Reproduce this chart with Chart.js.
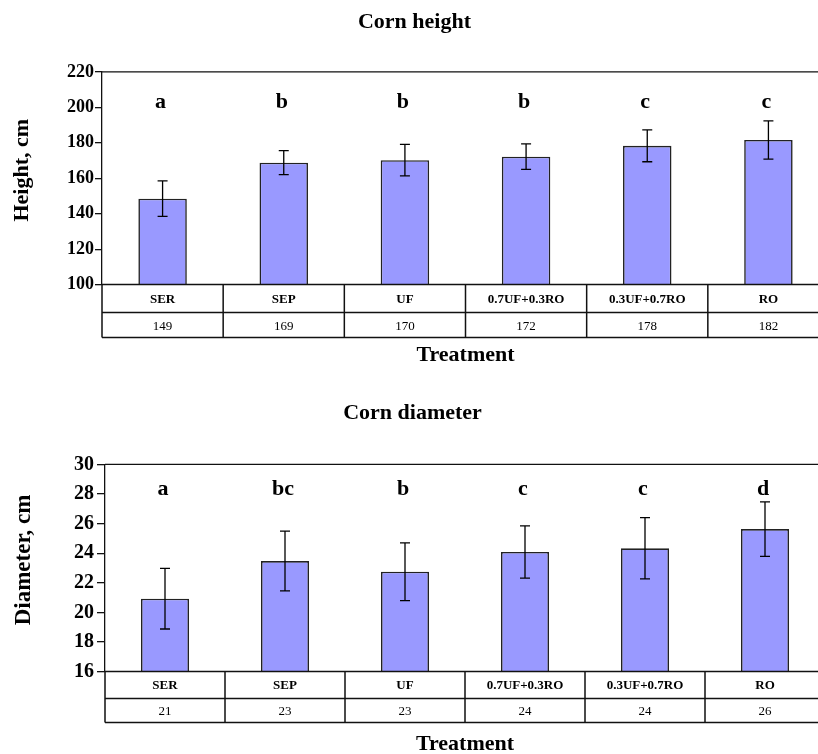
<!DOCTYPE html>
<html>
<head>
<meta charset="utf-8">
<script src="https://cdn.jsdelivr.net/npm/chart.js@4.4.1/dist/chart.umd.min.js"></script>
<style>
  html, body { margin: 0; padding: 0; background: #fff; overflow: hidden; width: 818px; height: 754px; }
  .box { position: absolute; left: 0; }
</style>
</head>
<body>
<div class="box" style="top:0"><canvas id="heightChart" width="840" height="380"></canvas></div>
<div class="box" style="top:380px"><canvas id="diamChart" width="840" height="390"></canvas></div>
<script>
// data
var treatments = ['SER', 'SEP', 'UF', '0.7UF+0.3RO', '0.3UF+0.7RO', 'RO'];

var heightMeans = [148.5, 168.8, 170.2, 172.2, 178.3, 181.6];
var heightErr = [10, 6.8, 8.9, 7.2, 9, 10.8];
var heightLetters = ['a', 'b', 'b', 'b', 'c', 'c'];
var heightTable = ['149', '169', '170', '172', '178', '182'];

var diamMeans = [20.93, 23.47, 22.75, 24.08, 24.33, 25.63];
var diamErr = [2.05, 2.02, 1.95, 1.77, 2.07, 1.84];
var diamLetters = ['a', 'bc', 'b', 'c', 'c', 'd'];
var diamTable = ['21', '23', '23', '24', '24', '26'];

Chart.defaults.color = '#000';
Chart.defaults.font.family = '"Liberation Serif", "Times New Roman", serif';

// error bars, significance letters, y title, plot frame and the data table under the axis
const extras = {
    id: 'extras',
    afterDatasetsDraw(chart, args, opts) {
        const ctx = chart.ctx;
        const a = chart.chartArea;
        const x = chart.scales.x;
        const y = chart.scales.y;
        ctx.save();

        // error bars
        ctx.strokeStyle = '#000';
        ctx.lineWidth = 1.3;
        opts.values.forEach((v, i) => {
            const px = x.getPixelForValue(i);
            const t = y.getPixelForValue(v + opts.errors[i]);
            const b = y.getPixelForValue(v - opts.errors[i]);
            ctx.beginPath();
            ctx.moveTo(px, t); ctx.lineTo(px, b);
            ctx.moveTo(px - 5, t); ctx.lineTo(px + 5, t);
            ctx.moveTo(px - 5, b); ctx.lineTo(px + 5, b);
            ctx.stroke();
        });

        // letters
        ctx.font = 'bold 22px "Liberation Serif", serif';
        ctx.fillStyle = '#000';
        ctx.textAlign = 'center';
        ctx.textBaseline = 'alphabetic';
        const ly = y.getPixelForValue(opts.letterValue);
        opts.letters.forEach((l, i) => {
            ctx.fillText(l, x.getPixelForValue(i) - 2, ly);
        });

        // y axis title, sits a little above the middle of the plot like the original
        ctx.save();
        ctx.translate(opts.yTitleX, (a.top + a.bottom) / 2 - 8);
        ctx.rotate(-Math.PI / 2);
        ctx.font = 'bold ' + opts.yTitleSize + 'px "Liberation Serif", serif';
        ctx.textBaseline = 'middle';
        ctx.fillText(opts.yTitle, 0, 0);
        ctx.restore();

        // frame: top and right of plot area
        ctx.strokeStyle = '#111';
        ctx.lineWidth = 1.3;
        ctx.beginPath();
        ctx.moveTo(a.left, a.top); ctx.lineTo(a.right, a.top); ctx.lineTo(a.right, a.bottom);
        ctx.stroke();

        // table
        const r1 = a.bottom + opts.rowHeights[0];
        const r2 = r1 + opts.rowHeights[1];
        ctx.lineWidth = 1.5;
        ctx.beginPath();
        ctx.moveTo(a.left, a.bottom); ctx.lineTo(a.right, a.bottom);
        ctx.moveTo(a.left, r1); ctx.lineTo(a.right, r1);
        ctx.moveTo(a.left, r2); ctx.lineTo(a.right, r2);
        ctx.moveTo(a.left, a.bottom); ctx.lineTo(a.left, r2);
        ctx.moveTo(a.right, a.bottom); ctx.lineTo(a.right, r2);
        const n = opts.labels.length;
        for (let i = 0; i < n - 1; i++) {
            const bx = (x.getPixelForValue(i) + x.getPixelForValue(i + 1)) / 2;
            ctx.moveTo(bx, a.bottom); ctx.lineTo(bx, r2);
        }
        ctx.stroke();

        ctx.textBaseline = 'middle';
        opts.labels.forEach((lab, i) => {
            const px = x.getPixelForValue(i);
            ctx.font = 'bold 13px "Liberation Serif", serif';
            ctx.fillText(lab, px, (a.bottom + r1) / 2 + 1);
            ctx.font = '13px "Liberation Serif", serif';
            ctx.fillText(opts.row2[i], px, (r1 + r2) / 2 + 1);
        });
        ctx.restore();
    }
};

function makeChart(id, cfg) {
    return new Chart(document.getElementById(id), {
        type: 'bar',
        data: {
            labels: treatments,
            datasets: [{
                data: cfg.values,
                backgroundColor: '#9999ff',
                borderColor: '#222',
                borderWidth: 1.6,
                barPercentage: 0.4,
                categoryPercentage: 1
            }]
        },
        options: {
            responsive: false,
            animation: false,
            layout: { padding: { left: 0, right: cfg.padRight, top: 0, bottom: 0 } },
            plugins: {
                legend: { display: false },
                tooltip: { enabled: false },
                title: {
                    display: true,
                    text: cfg.title,
                    font: { size: 22, weight: 'bold' },
                    padding: { top: cfg.titleTop, bottom: cfg.titleBottom }
                },
                extras: {
                    values: cfg.values,
                    errors: cfg.errors,
                    letters: cfg.letters,
                    letterValue: cfg.letterValue,
                    labels: treatments,
                    row2: cfg.row2,
                    rowHeights: cfg.rowHeights,
                    yTitle: cfg.yTitle,
                    yTitleSize: cfg.yTitleSize,
                    yTitleX: cfg.yTitleX
                }
            },
            scales: {
                x: {
                    grid: { display: false, drawTicks: false },
                    border: { display: false },
                    ticks: { display: false },
                    title: {
                        display: true,
                        text: 'Treatment',
                        font: { size: 22, weight: 'bold' },
                        padding: { top: cfg.xTitleTop, bottom: cfg.xTitleBottom }
                    }
                },
                y: {
                    min: cfg.min,
                    max: cfg.max,
                    ticks: {
                        stepSize: cfg.step,
                        padding: cfg.tickPad,
                        font: { size: cfg.tickSize, weight: 'bold' }
                    },
                    grid: { drawOnChartArea: false, drawTicks: true, tickLength: cfg.tickLen, color: '#111', lineWidth: 1.3 },
                    border: { display: true, color: '#111', width: 1.3 },
                    title: { display: false },
                    afterFit(scale) { scale.width = cfg.axisLeft; }
                }
            }
        },
        plugins: [extras]
    });
}

makeChart('heightChart', {
    title: 'Corn height',
    values: heightMeans, errors: heightErr, letters: heightLetters, row2: heightTable,
    letterValue: 199.5,
    min: 100, max: 220, step: 20,
    tickSize: 18, tickPad: 1, tickLen: 7,
    yTitle: 'Height, cm', yTitleSize: 22, yTitleX: 22,
    axisLeft: 102, padRight: 11,
    titleTop: 9.5, titleBottom: 36,
    xTitleTop: 58, xTitleBottom: 11,
    rowHeights: [28, 25]
});

makeChart('diamChart', {
    title: 'Corn diameter',
    values: diamMeans, errors: diamErr, letters: diamLetters, row2: diamTable,
    letterValue: 27.9,
    min: 16, max: 30, step: 2,
    tickSize: 20, tickPad: 3, tickLen: 8,
    yTitle: 'Diameter, cm', yTitleSize: 23, yTitleX: 24,
    axisLeft: 105, padRight: 15,
    titleTop: 20.5, titleBottom: 37.5,
    xTitleTop: 60, xTitleBottom: 12,
    rowHeights: [27, 24]
});
</script>
</body>
</html>
